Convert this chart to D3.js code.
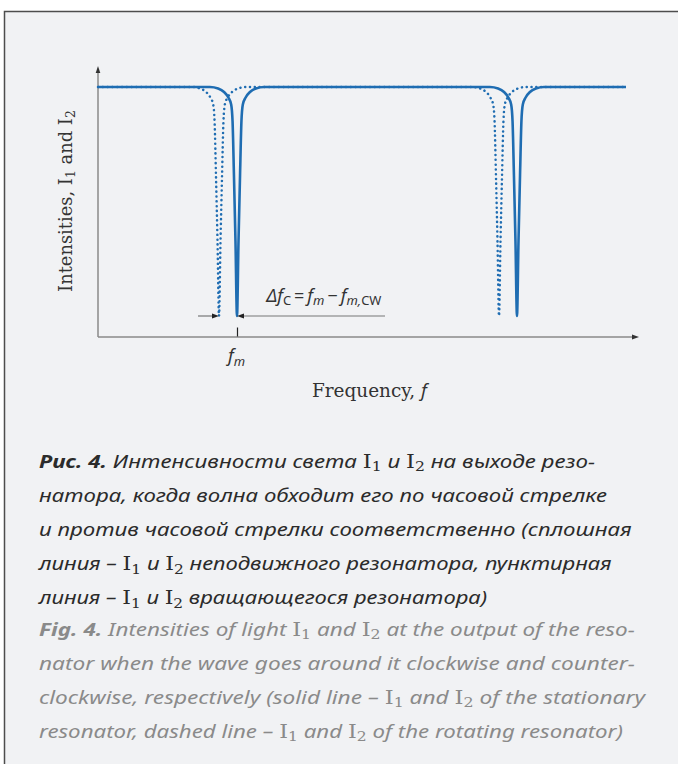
<!DOCTYPE html>
<html>
<head>
<meta charset="utf-8">
<script src="https://cdn.jsdelivr.net/npm/d3@7"></script>
<style>
  html, body { margin: 0; padding: 0; background: #fff; }
  svg { display: block; }
</style>
</head>
<body>
<svg id="fig" width="678" height="764"></svg>
<script>
// ---- data -------------------------------------------------------------
// Resonance dip centres (frequency, arbitrary units)
const dipsStationary = [2.574, 7.759];   // solid line, I1 and I2 of the resting resonator
const dipsRotating   = [2.241, 7.426];   // dotted line, rotating resonator
// Shape of one resonance dip: offset from its centre vs. normalised intensity
const profileOffset    = [-0.50, -0.35, -0.24, -0.16, -0.108, -0.082, -0.056, -0.028, 0,
                           0.028, 0.056, 0.082, 0.108, 0.16, 0.24, 0.35, 0.50];
const profileIntensity = [1.0, 0.994, 0.980, 0.958, 0.930, 0.862, 0.644, 0.384, 0.084,
                          0.384, 0.644, 0.862, 0.930, 0.958, 0.980, 0.994, 1.0];
const freqRange = [0, 9.778];            // extent of the traces
const baseIntensity = 1.0;
const tickFreq = [2.574];                // f_m
const tickLabels = ["f_m"];

const captionRu = [
  "**Рис. 4.** Интенсивности света I_1 и I_2 на выходе резо-",
  "натора, когда волна обходит его по часовой стрелке",
  "и против часовой стрелки соответственно (сплошная",
  "линия – I_1 и I_2 неподвижного резонатора, пунктирная",
  "линия – I_1 и I_2 вращающегося резонатора)"
];
const captionEn = [
  "**Fig. 4.** Intensities of light I_1 and I_2 at the output of the reso-",
  "nator when the wave goes around it clockwise and counter-",
  "clockwise, respectively (solid line – I_1 and I_2 of the stationary",
  "resonator, dashed line – I_1 and I_2 of the rotating resonator)"
];

// ---- layout -----------------------------------------------------------
const svg = d3.select("#fig");
const SANS = "'Noto Sans', 'Open Sans', sans-serif";
const SERIF = "'DejaVu Serif', 'Liberation Serif', serif";
const BLUE = "#1f6db2";

// framed panel
svg.append("rect")
  .attr("x", 4.5).attr("y", 11.5).attr("width", 720).attr("height", 800)
  .attr("fill", "#f1f2f4").attr("stroke", "#4d4d4d").attr("stroke-width", 1.5);

const x = d3.scaleLinear().domain([0, 10]).range([98, 638]);
const y = d3.scaleLinear().domain([0, 1]).range([337, 87]);

// build a trace from the dip centres and the shared dip profile
function trace(centres) {
  const pts = [[freqRange[0], baseIntensity]];
  centres.forEach(c => profileOffset.forEach((o, i) => pts.push([c + o, profileIntensity[i]])));
  pts.push([freqRange[1], baseIntensity]);
  return pts;
}
const line = d3.line().x(d => x(d[0])).y(d => y(d[1])).curve(d3.curveMonotoneX);

// axes
const axisG = svg.append("g");
axisG.append("line")
  .attr("x1", x(0)).attr("y1", y(0)).attr("x2", x(0)).attr("y2", y(1) - 17)
  .attr("stroke", "#8a8a8a").attr("stroke-width", 1.5);
axisG.append("line")
  .attr("x1", x(0)).attr("y1", y(0)).attr("x2", x(10) - 5).attr("y2", y(0))
  .attr("stroke", "#8a8a8a").attr("stroke-width", 1.5);
// arrow heads
const topY = y(1) - 21, rightX = x(10) + 1;
axisG.append("path")
  .attr("d", `M${x(0)},${topY} L${x(0) - 2.3},${topY + 7} L${x(0) + 2.3},${topY + 7} Z`)
  .attr("fill", "#333");
axisG.append("path")
  .attr("d", `M${rightX},${y(0)} L${rightX - 7},${y(0) - 2.5} L${rightX - 7},${y(0) + 2.5} Z`)
  .attr("fill", "#333");

// f_m tick, drawn inward from the frequency axis
const xAxis = d3.axisBottom(x).tickValues(tickFreq).tickSizeInner(-9).tickSizeOuter(0).tickFormat("");
const gx = svg.append("g").attr("transform", `translate(0,${y(0) - 0.5})`).call(xAxis);
gx.select(".domain").remove();
gx.selectAll(".tick line").attr("stroke", "#222").attr("stroke-width", 1.2);

// traces
svg.append("path").datum(trace(dipsStationary))
  .attr("d", line).attr("fill", "none").attr("stroke", BLUE).attr("stroke-width", 2.6);
svg.append("path").datum(trace(dipsRotating))
  .attr("d", line).attr("fill", "none").attr("stroke", BLUE).attr("stroke-width", 2.5)
  .attr("stroke-linecap", "round").attr("stroke-dasharray", "0.1 4.7");

// Δf_C annotation: shift between the two dips
const ay = y(d3.min(profileIntensity));
const aL = x(dipsRotating[0]), aR = x(dipsStationary[0]);
const ann = svg.append("g");
ann.append("line").attr("x1", aL - 21).attr("x2", aL - 6).attr("y1", ay).attr("y2", ay)
  .attr("stroke", "#777").attr("stroke-width", 1.2);
ann.append("line").attr("x1", aR + 6).attr("x2", 385).attr("y1", ay).attr("y2", ay)
  .attr("stroke", "#777").attr("stroke-width", 1.2);
ann.append("path").attr("d", `M${aL},${ay} L${aL - 7},${ay - 2.6} L${aL - 7},${ay + 2.6} Z`).attr("fill", "#222");
ann.append("path").attr("d", `M${aR},${ay} L${aR + 7},${ay - 2.6} L${aR + 7},${ay + 2.6} Z`).attr("fill", "#222");

// ---- text helpers -----------------------------------------------------
// parse "**bold**" and "I_n" tokens into tspans
function rich(g, str, o) {
  const t = g.append("text").attr("x", 0).attr("y", 0)
    .attr("font-family", o.family).attr("font-size", o.size)
    .attr("font-style", o.italic ? "italic" : "normal").attr("fill", o.color);
  let shift = false;
  str.split(/(\*\*[^*]+\*\*|I_\d)/).filter(s => s.length).forEach(s => {
    let ts;
    if (s.startsWith("**")) {
      ts = t.append("tspan").attr("font-weight", "bold").text(s.slice(2, -2));
    } else if (/^I_\d$/.test(s)) {
      ts = t.append("tspan").attr("font-family", SERIF).attr("font-style", "normal").text("I");
      if (shift) { ts.attr("dy", "-0.21em"); shift = false; }
      t.append("tspan").attr("font-family", SERIF).attr("font-style", "normal")
        .attr("font-size", "70%").attr("dy", "0.3em").text(s[2]);
      shift = true;
      return;
    } else {
      ts = t.append("tspan").text(s);
    }
    if (shift) { ts.attr("dy", "-0.21em"); shift = false; }
  });
  return t;
}
// place a text line at (x0, y0) and squeeze it horizontally to a given width
function placeFit(t, x0, y0, target) {
  const w = t.node().getComputedTextLength();
  const k = w > 0 ? target / w : 1;
  t.attr("transform", `translate(${x0},${y0}) scale(${k},1)`);
}
function fitSize(t, target, base) {
  const w = t.node().getComputedTextLength();
  if (w > 0) t.attr("font-size", base * target / w);
}

// axis titles
const yl = svg.append("text")
  .attr("transform", `translate(71.5,201) rotate(-90)`)
  .attr("text-anchor", "middle").attr("font-family", SERIF).attr("font-size", 15).attr("fill", "#333");
yl.append("tspan").text("Intensities, I");
yl.append("tspan").attr("font-size", "70%").attr("dy", "0.3em").text("1");
yl.append("tspan").attr("dy", "-0.21em").text(" and I");
yl.append("tspan").attr("font-size", "70%").attr("dy", "0.3em").text("2");
fitSize(yl, 182, 15);

const xl = svg.append("text").attr("x", 312).attr("y", 396.5)
  .attr("font-family", SERIF).attr("font-size", 16).attr("fill", "#333");
xl.append("tspan").text("Frequency, ");
xl.append("tspan").attr("font-family", SANS).attr("font-style", "italic").text("f");
fitSize(xl, 115, 16);

// f_m tick label
tickFreq.forEach((f, i) => {
  const [base, s] = tickLabels[i].split("_");
  const tl = svg.append("text").attr("x", x(f) - 9).attr("y", 362)
    .attr("font-family", SANS).attr("font-style", "italic").attr("font-size", 18).attr("fill", "#333");
  tl.append("tspan").text(base);
  tl.append("tspan").attr("font-size", "72%").attr("dy", "0.3em").text(s);
});

// Δf_C = f_m − f_m,CW
const at = svg.append("text")
  .attr("font-family", SANS).attr("font-style", "italic").attr("font-size", 17.5).attr("fill", "#333");
at.append("tspan").text("Δf");
at.append("tspan").attr("font-size", "72%").attr("dy", "0.3em").attr("font-style", "normal").text("C");
at.append("tspan").attr("dy", "-0.216em").attr("font-style", "normal").text("\u2009=\u2009");
at.append("tspan").text("f");
at.append("tspan").attr("font-size", "72%").attr("dy", "0.3em").text("m");
at.append("tspan").attr("dy", "-0.216em").attr("font-style", "normal").text("\u2009\u2212\u2009");
at.append("tspan").text("f");
at.append("tspan").attr("font-size", "72%").attr("dy", "0.3em").text("m,");
at.append("tspan").attr("font-size", "72%").attr("font-style", "normal").text("CW");
placeFit(at, 266.5, 301.5, 115);

// caption
const cap = svg.append("g");
const ruWidths = [556, 568, 593, 573, 448];
const enWidths = [596, 596, 606, 584];
captionRu.forEach((s, i) => {
  const t = rich(cap, s, { family: SANS, size: 18.6, italic: true, color: "#2b2b2b" });
  placeFit(t, 39, 467.5 + i * 34.1, ruWidths[i]);
});
captionEn.forEach((s, i) => {
  const t = rich(cap, s, { family: SANS, size: 18.6, italic: true, color: "#8a8a8a" });
  placeFit(t, 39, 635.5 + i * 34, enWidths[i]);
});
</script>
</body>
</html>
